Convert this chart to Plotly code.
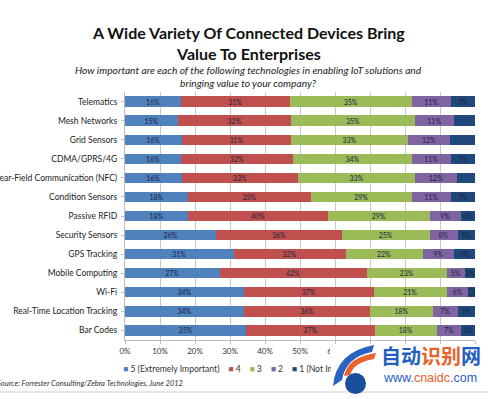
import plotly.graph_objects as go

categories = ["Telematics", "Mesh Networks", "Grid Sensors", "CDMA/GPRS/4G",
              "Near-Field Communication (NFC)", "Condition Sensors", "Passive RFID",
              "Security Sensors", "GPS Tracking", "Mobile Computing", "Wi-Fi",
              "Real-Time Location Tracking", "Bar Codes"]

s5 = [16, 15, 16, 16, 16, 18, 18, 26, 31, 27, 34, 34, 35]
s4 = [31, 32, 31, 32, 33, 35, 40, 36, 32, 42, 37, 36, 37]
s3 = [35, 35, 33, 34, 33, 29, 29, 25, 22, 23, 21, 18, 18]
s2 = [11, 11, 12, 11, 12, 11, 9, 8, 9, 5, 6, 7, 7]
s1 = [7, 6, 7, 7, 5, 7, 4, 5, 6, 3, 2, 5, 4]

series_names = ["5 (Extremely Important)", "4", "3", "2", "1 (Not Important)"]
series_values = [s5, s4, s3, s2, s1]
colors = ["#4F81BD", "#C0504D", "#9BBB59", "#8064A2", "#1F497D"]

x_ticks = [0, 10, 20, 30, 40, 50, 60, 70, 80, 90, 100]
x_tick_labels = [f"{t}%" for t in x_ticks]

FONT = "Lato, 'Open Sans', sans-serif"

W, H = 496, 399
l, r, t, b = 125, 21, 92, 59
pw, ph = W - l - r, H - t - b


def px(x):
    return (x - l) / pw


def py(y):
    return (H - b - y) / ph


fig = go.Figure()
for name, vals, col in zip(series_names, series_values, colors):
    fig.add_trace(go.Bar(
        y=categories, x=vals, name=name, orientation="h",
        marker=dict(color=col, line=dict(width=0)),
        text=[f"{v}%" for v in vals],
        textposition="inside", insidetextanchor="middle",
        textfont=dict(size=7, color="#1c2440", family=FONT),
        cliponaxis=False, showlegend=False,
    ))

fig.update_layout(
    barmode="stack", barnorm="percent", bargap=0.46,
    width=W, height=H,
    margin=dict(l=l, r=r, t=t, b=b, autoexpand=False),
    paper_bgcolor="white", plot_bgcolor="white",
    font=dict(family=FONT, color="#222"),
    uniformtext=dict(minsize=6, mode="show"),
    showlegend=False,
)
fig.update_xaxes(range=[0, 100], tickvals=x_ticks, ticktext=x_tick_labels,
                 showgrid=True, gridcolor="#c8c8c8", gridwidth=1, automargin=False,
                 showline=True, linecolor="#bbbbbb", ticks="outside", ticklen=3,
                 tickcolor="#bbbbbb", tickfont=dict(size=8, color="#333"), zeroline=False)
fig.update_yaxes(autorange="reversed", showline=True, linecolor="#bbbbbb", automargin=False,
                 ticks="outside", ticklen=3, tickcolor="#bbbbbb",
                 tickfont=dict(size=8.5, color="#222"), ticksuffix=" ")

# compact legend row built from the series names / colours
legend_text = "    ".join(
    f"<span style='color:{c}'>■</span> {n}" for n, c in zip(series_names, colors))

annotations = [
    dict(text="<b>A Wide Variety Of Connected Devices Bring<br>Value To Enterprises</b>",
         x=px(248), y=py(43), xanchor="center", yanchor="middle",
         font=dict(size=16, color="#111", family=FONT)),
    dict(text="<i>How important are each of the following technologies in enabling IoT solutions and<br>bringing value to your company?</i>",
         x=px(248), y=py(77), xanchor="center", yanchor="middle",
         font=dict(size=10.2, color="#222", family=FONT)),
    # legend row; its box ends where the watermark logo begins (text clipped there)
    dict(text=legend_text, x=px(122), y=py(369), xanchor="left", yanchor="middle",
         width=208, align="left", borderpad=0,
         font=dict(size=8.6, color="#333", family=FONT)),
    dict(text="<i>Source: Forrester Consulting/Zebra Technologies, June 2012</i>",
         x=px(-5), y=py(383), xanchor="left", yanchor="middle",
         font=dict(size=7.5, color="#333", family=FONT)),
    # watermark
    dict(text="<b><span style='color:#1f5fc0'>自动</span><span style='color:#e8622a'>识别</span><span style='color:#1f5fc0'>网</span></b>",
         x=px(431), y=py(355), xanchor="center", yanchor="middle",
         font=dict(size=20, family="Noto Sans CJK SC")),
    dict(text="<span style='color:#1f5fc0'>www.</span><span style='color:#e8622a'>cnaidc</span><span style='color:#1f5fc0'>.com</span>",
         x=px(430), y=py(378), xanchor="center", yanchor="middle",
         font=dict(size=12.5, family="Liberation Sans")),
]
for a in annotations:
    a.update(xref="paper", yref="paper", showarrow=False)
fig.update_layout(annotations=annotations)

fig.add_shape(type="line", xref="paper", yref="paper",
              x0=px(0), x1=px(488), y0=py(392), y1=py(392),
              line=dict(color="#cccccc", width=1))
# logo background + swooshes + globe
fig.add_shape(type="rect", xref="paper", yref="paper",
              x0=px(330), x1=px(490), y0=py(390), y1=py(344),
              fillcolor="white", line=dict(width=0), layer="above")
fig.add_shape(type="path", xref="paper", yref="paper",
              path=(f"M {px(333)} {py(386)} Q {px(336)} {py(352)} {px(374)} {py(345)} "
                    f"L {px(372)} {py(352)} Q {px(346)} {py(357)} {px(342)} {py(380)} Z"),
              fillcolor="#2a63c4", line=dict(width=0), layer="above")
fig.add_shape(type="path", xref="paper", yref="paper",
              path=(f"M {px(344)} {py(376)} Q {px(348)} {py(357)} {px(376)} {py(353)} "
                    f"L {px(374)} {py(359)} Q {px(354)} {py(362)} {px(350)} {py(375)} Z"),
              fillcolor="#e8622a", line=dict(width=0), layer="above")
fig.add_shape(type="circle", xref="paper", yref="paper",
              x0=px(345), x1=px(366), y0=py(394), y1=py(373),
              fillcolor="#1a4f9e", line=dict(width=0), layer="above")

fig.write_html("out.html", config={"displayModeBar": False},
               post_script="document.body.style.margin='0';")
